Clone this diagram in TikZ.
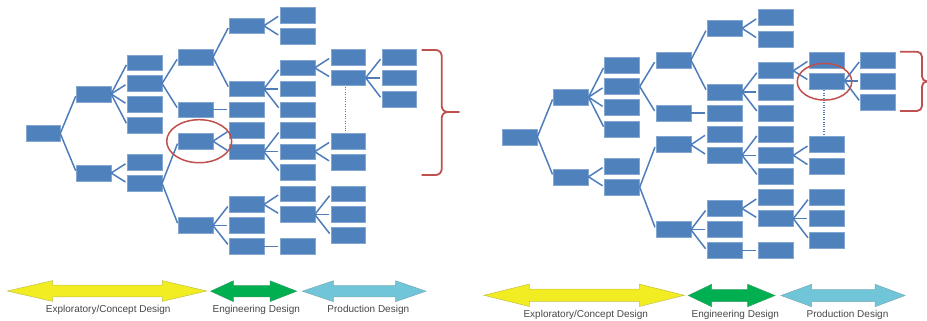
\documentclass[tikz,border=0pt]{standalone}
\usepackage{fontspec}
\setmainfont{Liberation Sans}
\usetikzlibrary{shapes.geometric}

\definecolor{boxblue}{RGB}{79,129,189}
\definecolor{edgeblue}{RGB}{78,125,186}
\definecolor{markred}{RGB}{192,80,77}
\definecolor{phaseyellow}{RGB}{242,236,34}
\definecolor{phasegreen}{RGB}{0,176,80}
\definecolor{phasecyan}{RGB}{112,198,216}
\definecolor{labelgray}{RGB}{70,70,70}

\tikzset{
  box/.style={rectangle, fill=boxblue, draw=boxblue!70!white, line width=0.5pt,
    minimum width=34.5pt, minimum height=15.6pt, inner sep=0pt, outer sep=0pt},
  link/.style={draw=edgeblue, line width=1.5pt, shorten >=2.5pt},
  dotlink/.style={draw=edgeblue, line width=1.3pt, dash pattern=on 1pt off 1.4pt},
  ring/.style={ellipse, draw=markred, line width=1.5pt, inner sep=0pt},
  brace/.style={draw=markred, line width=1.8pt, rounded corners=6pt},
  phaselabel/.style={font=\fontsize{10}{12}\selectfont, text=labelgray, anchor=base, inner sep=0pt},
}

% one design tree: x = column index, y = row position (downwards)
\newcommand\designtree[1]{
  \node[box] (#1r) at (0,133.5) {};
  \node[box] (#1a1) at (1,94) {};
  \node[box] (#1a2) at (1,173) {};
  \node[box] (#1b1) at (2,62.7) {};
  \node[box] (#1b2) at (2,83.5) {};
  \node[box] (#1b3) at (2,104.5) {};
  \node[box] (#1b4) at (2,125.5) {};
  \node[box] (#1b5) at (2,162.5) {};
  \node[box] (#1b6) at (2,183.3) {};
  \node[box] (#1c1) at (3,57.2) {};
  \node[box] (#1c2) at (3,109.7) {};
  \node[box] (#1c3) at (3,141.2) {};
  \node[box] (#1c4) at (3,225.5) {};
  \node[box] (#1d1) at (4,25.8) {};
  \node[box] (#1d2) at (4,88.8) {};
  \node[box] (#1d3) at (4,109.7) {};
  \node[box] (#1d4) at (4,130.5) {};
  \node[box] (#1d5) at (4,151.7) {};
  \node[box] (#1d6) at (4,204.5) {};
  \node[box] (#1d7) at (4,225.5) {};
  \node[box] (#1d8) at (4,246.3) {};
  \node[box] (#1e1) at (5,15) {};
  \node[box] (#1e2) at (5,36.2) {};
  \node[box] (#1e3) at (5,67.8) {};
  \node[box] (#1e4) at (5,88.8) {};
  \node[box] (#1e5) at (5,109.7) {};
  \node[box] (#1e6) at (5,130.5) {};
  \node[box] (#1e7) at (5,151.7) {};
  \node[box] (#1e8) at (5,172.5) {};
  \node[box] (#1e9) at (5,193.7) {};
  \node[box] (#1e10) at (5,214.5) {};
  \node[box] (#1e11) at (5,246.3) {};
  \node[box] (#1f1) at (6,57.2) {};
  \node[box] (#1f2) at (6,77.8) {};
  \node[box] (#1f3) at (6,141.2) {};
  \node[box] (#1f4) at (6,162.2) {};
  \node[box] (#1f5) at (6,193.7) {};
  \node[box] (#1f6) at (6,214.5) {};
  \node[box] (#1f7) at (6,235.5) {};
  \node[box] (#1g1) at (7,57.2) {};
  \node[box] (#1g2) at (7,77.8) {};
  \node[box] (#1g3) at (7,99.2) {};
  \foreach \p/\c in {r/a1, r/a2,
      a1/b1, a1/b2, a1/b3, a1/b4, a2/b5, a2/b6,
      b2/c1, b2/c2, b6/c3, b6/c4,
      c1/d1, c1/d2, c2/d3, c3/d4, c3/d5, c4/d6, c4/d7, c4/d8,
      d1/e1, d1/e2, d2/e3, d2/e4, d2/e5, d5/e6, d5/e7, d5/e8,
      d6/e9, d6/e10, d8/e11,
      e3/f1, e3/f2, e7/f3, e7/f4, e10/f5, e10/f6, e10/f7,
      f2/g1, f2/g2, f2/g3}
    \draw[link] (#1\p.east) -- (#1\c.west);
  \draw[dotlink] ([xshift=-3pt,yshift=-1.5pt]#1f2.south) -- ([xshift=-3pt,yshift=2pt]#1f3.north);
}

% double-headed phase arrow: colour, left tip, left head base, right head base, right tip, centre y, head half-height, shaft half-height
\newcommand\phasearrow[8]{
  \filldraw[fill=#1, draw=#1!60!gray, line width=0.5pt]
    (#2,#6) -- (#3,#6-#7) -- (#3,#6-#8) -- (#4,#6-#8) -- (#4,#6-#7) -- (#5,#6)
    -- (#4,#6+#7) -- (#4,#6+#8) -- (#3,#6+#8) -- (#3,#6+#7) -- cycle;
}

\begin{document}
\begin{tikzpicture}[x=1pt, y=-1pt]
\useasboundingbox (0,0) rectangle (927,321);
\clip (0,0) rectangle (927,321);

% left tree
\begin{scope}[shift={(43pt,0pt)}, x=50.9pt, y=-1pt]
  \designtree{A}
\end{scope}

% right tree
\begin{scope}[shift={(519.8pt,-2.4pt)}, x=51.2pt, y=-1.008pt,
    box/.append style={minimum width=35pt, minimum height=16pt}]
  \designtree{B}
\end{scope}

% highlighted decision points
\node[ring, minimum width=65pt, minimum height=43pt] (Aring) at ([xshift=3.5pt]Ac3) {};
\node[ring, minimum width=54.5pt, minimum height=36.7pt] (Bring) at ([xshift=-2.5pt,yshift=-0.9pt]Bf2) {};

% braces grouping the later alternatives
\draw[brace] (421.7,50) -- (441.7,50) -- (441.7,112) -- (459.3,112);
\draw[brace] (421.7,175) -- (441.7,175) -- (441.7,112) -- (459.3,112);
\draw[brace, rounded corners=5pt] (900,51.7) -- (922,51.7) -- (922,81.4) -- (936,81.4);
\draw[brace, rounded corners=5pt] (900,111) -- (922,111) -- (922,81.4) -- (936,81.4);

% design phases, left
\phasearrow{phaseyellow}{7.3}{52.7}{162.3}{206.7}{291}{10.4}{5.8}
\phasearrow{phasegreen}{210.7}{233.3}{270}{296.7}{291.2}{10.4}{5.6}
\phasearrow{phasecyan}{302.3}{333.3}{395.7}{426}{291.2}{10.4}{5.6}
\node[phaselabel] (Lexp) at (108.2,312.5) {Exploratory/Concept Design};
\node[phaselabel] (Leng) at (256.3,312.5) {Engineering Design};
\node[phaselabel] (Lpro) at (368.3,312.5) {Production Design};

% design phases, right
\phasearrow{phaseyellow}{484}{529.3}{639.3}{684.3}{295.3}{11.2}{6.1}
\phasearrow{phasegreen}{688.3}{711.7}{747.7}{775}{295.5}{11.2}{6}
\phasearrow{phasecyan}{781}{811.7}{875}{905}{295.5}{11.2}{6}
\node[phaselabel] (Rexp) at (585.8,317.3) {Exploratory/Concept Design};
\node[phaselabel] (Reng) at (735.3,317.3) {Engineering Design};
\node[phaselabel] (Rpro) at (847.5,317.3) {Production Design};
\end{tikzpicture}
\end{document}
